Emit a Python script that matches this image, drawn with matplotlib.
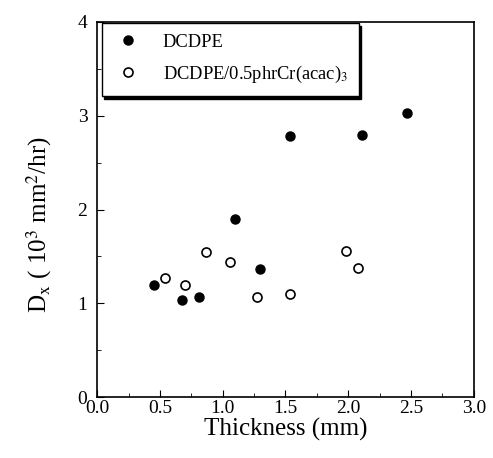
import matplotlib
matplotlib.use("Agg")
import matplotlib.pyplot as plt
from matplotlib.ticker import MultipleLocator, FormatStrFormatter

plt.rcParams['font.family'] = ['Liberation Serif', 'DejaVu Serif']
plt.rcParams['mathtext.fontset'] = 'stix'

# data
thick_dcdpe = [0.45, 0.68, 0.81, 1.10, 1.30, 1.54, 2.11, 2.47]
dx_dcdpe = [1.19, 1.04, 1.07, 1.90, 1.37, 2.78, 2.80, 3.03]

thick_cr = [0.54, 0.70, 0.87, 1.06, 1.27, 1.54, 1.98, 2.08]
dx_cr = [1.27, 1.20, 1.55, 1.44, 1.07, 1.10, 1.56, 1.38]

fig = plt.figure(figsize=(4.93, 4.58), dpi=100)
ax = fig.add_axes([0.197, 0.133, 0.764, 0.819])

ax.plot(thick_dcdpe, dx_dcdpe, 'o', color='black', markersize=6.5, linestyle='none',
        label='DCDPE')
ax.plot(thick_cr, dx_cr, 'o', markerfacecolor='white', markeredgecolor='black',
        markeredgewidth=1.2, markersize=6.5, linestyle='none',
        label=r'DCDPE/0.5phrCr(acac)$_{\mathrm{3}}$')

ax.set_xlim(0, 3.0)
ax.set_ylim(0, 4)
ax.xaxis.set_major_locator(MultipleLocator(0.5))
ax.xaxis.set_minor_locator(MultipleLocator(0.25))
ax.yaxis.set_major_locator(MultipleLocator(1))
ax.yaxis.set_minor_locator(MultipleLocator(0.5))
ax.xaxis.set_major_formatter(FormatStrFormatter('%.1f'))
ax.tick_params(which='both', direction='in', labelsize=14)
ax.tick_params(which='major', length=5)
ax.tick_params(which='minor', length=3)
ax.tick_params(axis='x', pad=2)
ax.tick_params(axis='y', pad=7)
for s in ax.spines.values():
    s.set_linewidth(1.2)

ax.set_xlabel('Thickness (mm)', fontsize=18, labelpad=1)
ax.set_ylabel(r'D$_{\mathrm{x}}$ ( 10$^{\mathrm{3}}$ mm$^{\mathrm{2}}$/hr)', fontsize=18)
ax.yaxis.set_label_coords(-0.115, 0.46)

leg = ax.legend(loc='upper left', bbox_to_anchor=(0.012, 0.998), fancybox=False,
                shadow={'color': 'black', 'alpha': 1.0},
                fontsize=13.3, handletextpad=1.1, borderpad=0.6, labelspacing=0.7,
                handlelength=1.6, borderaxespad=0.0)
leg.get_frame().set_edgecolor('black')
leg.get_frame().set_linewidth(1.0)

plt.savefig('out.png', dpi=100)
